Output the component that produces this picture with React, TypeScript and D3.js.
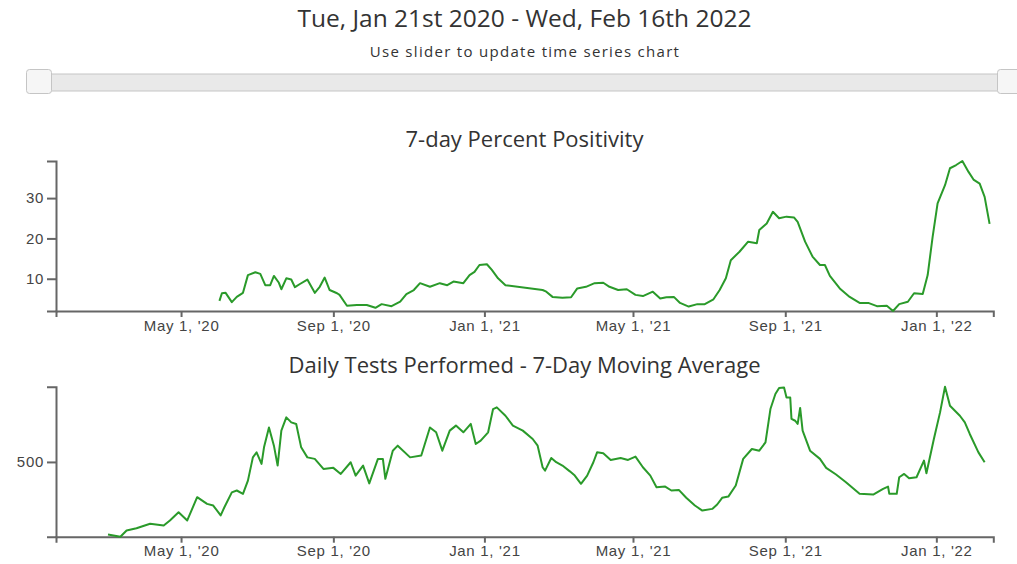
import React, { useEffect, useRef } from 'react';
import * as d3 from 'd3';

const startDate = '2020-01-21';
const endDate = '2022-02-16';
const xTickDates = ['2020-05-01', '2020-09-01', '2021-01-01', '2021-05-01', '2021-09-01', '2022-01-01'];
const positivityTicks = [10, 20, 30];
const testsTicks = [500];

// 7-day percent positivity
const positivity: [string, number][] = [
  ['2020-06-01', 4.5], ['2020-06-03', 6.4], ['2020-06-06', 6.5], ['2020-06-11', 4.2], ['2020-06-15', 5.5],
  ['2020-06-20', 6.5], ['2020-06-24', 10.9], ['2020-06-30', 11.6], ['2020-07-04', 11.2], ['2020-07-08', 8.4],
  ['2020-07-12', 8.4], ['2020-07-15', 10.7], ['2020-07-19', 9.0], ['2020-07-21', 7.4], ['2020-07-25', 10.1],
  ['2020-07-29', 9.8], ['2020-08-01', 7.9], ['2020-08-05', 8.7], ['2020-08-11', 9.8], ['2020-08-17', 6.5],
  ['2020-08-21', 8.0], ['2020-08-25', 10.3], ['2020-08-29', 7.2], ['2020-09-04', 6.4], ['2020-09-06', 6.0],
  ['2020-09-12', 3.3], ['2020-09-20', 3.5], ['2020-09-28', 3.5], ['2020-10-05', 2.8], ['2020-10-10', 3.7],
  ['2020-10-18', 3.2], ['2020-10-25', 4.3], ['2020-10-30', 6.2], ['2020-11-05', 7.2], ['2020-11-10', 8.9],
  ['2020-11-18', 8.0], ['2020-11-26', 8.9], ['2020-12-02', 8.4], ['2020-12-07', 9.3], ['2020-12-15', 8.9],
  ['2020-12-20', 10.9], ['2020-12-24', 11.7], ['2020-12-28', 13.4], ['2021-01-03', 13.6], ['2021-01-07', 12.2],
  ['2021-01-12', 10.1], ['2021-01-18', 8.4], ['2021-02-17', 7.2], ['2021-02-20', 6.8], ['2021-02-25', 5.5],
  ['2021-03-05', 5.3], ['2021-03-12', 5.4], ['2021-03-17', 7.6], ['2021-03-24', 8.0], ['2021-03-31', 8.9],
  ['2021-04-07', 9.0], ['2021-04-12', 8.0], ['2021-04-19', 7.2], ['2021-04-26', 7.4], ['2021-05-03', 6.0],
  ['2021-05-09', 5.7], ['2021-05-17', 6.8], ['2021-05-23', 5.1], ['2021-05-28', 5.4], ['2021-06-03', 5.5],
  ['2021-06-08', 4.0], ['2021-06-15', 3.1], ['2021-06-22', 3.7], ['2021-06-28', 3.7], ['2021-07-05', 4.9],
  ['2021-07-10', 7.2], ['2021-07-15', 10.1], ['2021-07-19', 14.6], ['2021-07-26', 16.7], ['2021-08-02', 19.2],
  ['2021-08-09', 18.8], ['2021-08-11', 22.1], ['2021-08-17', 23.7], ['2021-08-22', 26.6], ['2021-08-27', 25.0],
  ['2021-09-02', 25.4], ['2021-09-08', 25.2], ['2021-09-11', 24.1], ['2021-09-17', 19.2], ['2021-09-23', 15.5],
  ['2021-09-29', 13.4], ['2021-10-03', 13.4], ['2021-10-07', 10.7], ['2021-10-15', 7.6], ['2021-10-23', 5.5],
  ['2021-10-31', 4.0], ['2021-11-07', 4.0], ['2021-11-14', 3.2], ['2021-11-22', 3.3], ['2021-11-27', 2.0],
  ['2021-12-02', 3.7], ['2021-12-09', 4.3], ['2021-12-14', 6.4], ['2021-12-21', 6.2], ['2021-12-25', 10.9],
  ['2021-12-29', 20.4], ['2022-01-02', 28.7], ['2022-01-08', 33.2], ['2022-01-12', 37.4], ['2022-01-17', 38.2],
  ['2022-01-22', 39.2], ['2022-01-27', 36.5], ['2022-01-31', 34.6], ['2022-02-05', 33.6], ['2022-02-09', 30.3],
  ['2022-02-13', 23.6],
];

// daily tests performed, 7-day moving average
const tests: [string, number][] = [
  ['2020-03-03', 23], ['2020-03-13', 8], ['2020-03-18', 49], ['2020-03-26', 64], ['2020-04-06', 93],
  ['2020-04-17', 82], ['2020-04-22', 115], ['2020-04-29', 169], ['2020-05-06', 115], ['2020-05-14', 268],
  ['2020-05-22', 224], ['2020-05-27', 213], ['2020-06-02', 148], ['2020-06-05', 202], ['2020-06-11', 300],
  ['2020-06-15', 312], ['2020-06-20', 290], ['2020-06-24', 377], ['2020-06-28', 530], ['2020-07-01', 563],
  ['2020-07-05', 487], ['2020-07-07', 596], ['2020-07-11', 727], ['2020-07-15', 607], ['2020-07-18', 476],
  ['2020-07-21', 706], ['2020-07-25', 793], ['2020-07-29', 760], ['2020-08-02', 750], ['2020-08-06', 596],
  ['2020-08-11', 530], ['2020-08-17', 520], ['2020-08-24', 454], ['2020-09-01', 461], ['2020-09-07', 421],
  ['2020-09-15', 498], ['2020-09-19', 410], ['2020-09-25', 476], ['2020-09-30', 359], ['2020-10-07', 520],
  ['2020-10-11', 520], ['2020-10-13', 389], ['2020-10-19', 574], ['2020-10-23', 607], ['2020-11-02', 530],
  ['2020-11-11', 542], ['2020-11-18', 727], ['2020-11-23', 695], ['2020-11-28', 574], ['2020-12-04', 706],
  ['2020-12-09', 739], ['2020-12-15', 695], ['2020-12-21', 750], ['2020-12-25', 618], ['2020-12-29', 640],
  ['2021-01-04', 695], ['2021-01-08', 848], ['2021-01-11', 859], ['2021-01-18', 804], ['2021-01-24', 739],
  ['2021-02-01', 706], ['2021-02-09', 651], ['2021-02-13', 607], ['2021-02-17', 465], ['2021-02-19', 443],
  ['2021-02-24', 526], ['2021-02-28', 498], ['2021-03-05', 476], ['2021-03-11', 438], ['2021-03-15', 410],
  ['2021-03-20', 356], ['2021-03-25', 410], ['2021-03-30', 498], ['2021-04-02', 563], ['2021-04-07', 557],
  ['2021-04-13', 513], ['2021-04-21', 526], ['2021-04-27', 513], ['2021-05-03', 535], ['2021-05-09', 465],
  ['2021-05-15', 410], ['2021-05-20', 333], ['2021-05-27', 338], ['2021-06-01', 312], ['2021-06-07', 316],
  ['2021-06-13', 264], ['2021-06-20', 213], ['2021-06-26', 180], ['2021-07-04', 191], ['2021-07-08', 220],
  ['2021-07-12', 264], ['2021-07-17', 272], ['2021-07-23', 345], ['2021-07-29', 520], ['2021-08-05', 585],
  ['2021-08-11', 574], ['2021-08-16', 629], ['2021-08-20', 848], ['2021-08-24', 947], ['2021-08-27', 986],
  ['2021-08-31', 990], ['2021-09-02', 924], ['2021-09-05', 924], ['2021-09-06', 783], ['2021-09-09', 771],
  ['2021-09-11', 750], ['2021-09-13', 855], ['2021-09-15', 706], ['2021-09-21', 574], ['2021-09-29', 520],
  ['2021-10-04', 461], ['2021-10-12', 417], ['2021-10-20', 366], ['2021-10-31', 290], ['2021-11-11', 285],
  ['2021-11-19', 323], ['2021-11-23', 338], ['2021-11-24', 290], ['2021-11-30', 290], ['2021-12-02', 399],
  ['2021-12-06', 421], ['2021-12-10', 392], ['2021-12-16', 399], ['2021-12-22', 509], ['2021-12-24', 425],
  ['2021-12-30', 651], ['2022-01-04', 826], ['2022-01-08', 995], ['2022-01-12', 870], ['2022-01-20', 804],
  ['2022-01-24', 760], ['2022-01-28', 684], ['2022-02-04', 563], ['2022-02-09', 498],
];

const parse = d3.timeParse('%Y-%m-%d');
const W = 1017, H = 564;
const TITLE_FONT = '"Open Sans", sans-serif';
const AXIS_FONT = '"Liberation Sans", Arial, sans-serif';

export default function App() {
  const ref = useRef<SVGSVGElement>(null);

  useEffect(() => {
    const svg = d3.select(ref.current);
    svg.selectAll('*').remove();

    // header
    svg.append('text')
      .attr('x', 524.5).attr('y', 27)
      .attr('text-anchor', 'middle')
      .style('font-family', TITLE_FONT).style('font-size', '24.5px').attr('fill', '#333')
      .text('Tue, Jan 21st 2020 - Wed, Feb 16th 2022');
    svg.append('text')
      .attr('x', 525).attr('y', 57)
      .attr('text-anchor', 'middle')
      .style('font-family', TITLE_FONT).style('font-size', '15px').style('letter-spacing', '1.3px')
      .attr('fill', '#333')
      .text('Use slider to update time series chart');

    // slider (static)
    svg.append('rect')
      .attr('x', 27).attr('y', 74).attr('width', 1000).attr('height', 17)
      .attr('rx', 3).attr('fill', '#e9e9e9').attr('stroke', '#c5c5c5');
    [26, 997].forEach((hx) => {
      svg.append('rect')
        .attr('x', hx + 0.5).attr('y', 69.5).attr('width', 25).attr('height', 24)
        .attr('rx', 3).attr('fill', '#f6f6f6').attr('stroke', '#c5c5c5');
    });

    const x = d3.scaleTime()
      .domain([parse(startDate) as Date, parse(endDate) as Date])
      .range([56, 993.3]);

    const drawChart = (data: [string, number][], yTicks: number[], top: number, bottom: number, title: string, titleY: number) => {
      const rows = data.map(([d, v]) => ({ date: parse(d) as Date, value: v }));
      const y = d3.scaleLinear()
        .domain(d3.extent(rows, (r) => r.value) as [number, number])
        .range([bottom, top]);

      svg.append('text')
        .attr('x', 524.5).attr('y', titleY)
        .attr('text-anchor', 'middle')
        .style('font-family', TITLE_FONT).style('font-size', '22px').attr('fill', '#333')
        .text(title);

      const xAxis = svg.append('g')
        .attr('transform', 'translate(0,' + bottom + ')')
        .call(d3.axisBottom(x)
          .tickValues(xTickDates.map((d) => parse(d) as Date))
          .tickFormat(d3.timeFormat("%b %-d, '%y") as any)
          .tickSize(6).tickPadding(3));

      const yAxis = svg.append('g')
        .attr('transform', 'translate(56,0)')
        .call(d3.axisLeft(y).tickValues(yTicks).tickSize(9).tickPadding(3));

      [xAxis, yAxis].forEach((ax) => {
        ax.attr('font-family', AXIS_FONT).attr('font-size', 15);
        ax.select('.domain').attr('stroke', '#666').attr('stroke-width', 2);
        ax.selectAll('.tick line').attr('stroke', '#666').attr('stroke-width', 2);
        ax.selectAll('.tick text').attr('fill', '#444').style('letter-spacing', '0.7px');
      });

      const line = d3.line<{ date: Date; value: number }>()
        .x((r) => x(r.date))
        .y((r) => y(r.value));

      svg.append('path')
        .datum(rows)
        .attr('fill', 'none')
        .attr('stroke', '#2a9a2a')
        .attr('stroke-width', 2)
        .attr('stroke-linejoin', 'round')
        .attr('d', line);
    };

    drawChart(positivity, positivityTicks, 161, 311, '7-day Percent Positivity', 147);
    drawChart(tests, testsTicks, 386.7, 536.7, 'Daily Tests Performed - 7-Day Moving Average', 373);
  }, []);

  return (
    <svg ref={ref} width={W} height={H} style={{ position: 'absolute', left: 0, top: 0, background: '#fff' }} />
  );
}
